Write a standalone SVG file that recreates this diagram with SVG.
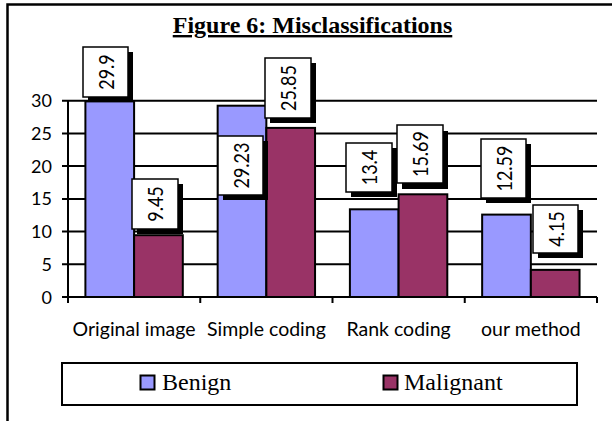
<svg xmlns="http://www.w3.org/2000/svg" width="612" height="421" viewBox="0 0 612 421">
<style>
.grid{stroke:#000;stroke-width:2;fill:none}
.ben{fill:#9999FF;stroke:#000;stroke-width:2}
.mal{fill:#993366;stroke:#000;stroke-width:2}
.ax{font-family:Lato,"Liberation Sans",sans-serif;font-size:18px;fill:#000}
.cat{font-family:Lato,"Liberation Sans",sans-serif;font-size:19.5px;fill:#000;text-anchor:middle}
.lbl{font-family:Lato,"Liberation Sans",sans-serif;font-size:18px;fill:#000;text-anchor:middle;dominant-baseline:central}
.box{fill:#fff;stroke:#000;stroke-width:1.5}
.shadow{fill:#000}
.serif{font-family:"Liberation Serif","Times New Roman",serif;fill:#000}
</style>
<rect x="0" y="0" width="612" height="421" fill="#fff"/>
<path d="M7.5,421 V4.5 H612" fill="none" stroke="#000" stroke-width="2.5"/>
<g id="title">
<text class="serif" x="312.5" y="33" font-size="24" font-weight="bold" text-anchor="middle" text-decoration="underline">Figure 6: Misclassifications</text>
</g>
<g id="axes">
<path class="grid" d="M62,297 H597 M62,264.3 H597 M62,231.6 H597 M62,198.9 H597 M62,166.1 H597 M62,133.4 H597 M62,100.7 H597"/>
<path class="grid" d="M68,100.7 V303 M200.25,297 V303 M332.5,297 V303 M464.75,297 V303 M597,297 V303"/>
<g class="ax" text-anchor="end">
<text x="52" y="303.5">0</text>
<text x="52" y="270.8">5</text>
<text x="52" y="238.1">10</text>
<text x="52" y="205.4">15</text>
<text x="52" y="172.6">20</text>
<text x="52" y="139.9">25</text>
<text x="52" y="107.2">30</text>
</g>
<text class="cat" x="134" y="336">Original image</text>
<text class="cat" x="266.4" y="336">Simple coding</text>
<text class="cat" x="398.6" y="336">Rank coding</text>
<text class="cat" x="530.9" y="336">our method</text>
</g>
<g id="bars">
<rect class="ben" x="85.4" y="101.4" width="48.7" height="195.6"/>
<rect class="mal" x="134.1" y="235.2" width="48.7" height="61.8"/>
<rect class="ben" x="217.65" y="105.7" width="48.7" height="191.3"/>
<rect class="mal" x="266.35" y="127.9" width="48.7" height="169.1"/>
<rect class="ben" x="349.9" y="209.3" width="48.7" height="87.7"/>
<rect class="mal" x="398.6" y="194.3" width="48.7" height="102.7"/>
<rect class="ben" x="482.15" y="214.6" width="48.7" height="82.4"/>
<rect class="mal" x="530.85" y="269.85" width="48.7" height="27.15"/>
</g>
<g id="labels">
<g id="lbl-29-9"><rect class="shadow" x="88" y="52" width="45" height="50"/><rect class="box" x="83" y="47" width="45" height="50"/><text class="lbl" transform="translate(105.5,72) rotate(-90) scale(1,1.15)">29.9</text></g>
<g id="lbl-9-45"><rect class="shadow" x="137" y="184" width="46" height="50"/><rect class="box" x="132" y="179" width="46" height="50"/><text class="lbl" transform="translate(155,204) rotate(-90) scale(1,1.15)">9.45</text></g>
<g id="lbl-29-23"><rect class="shadow" x="223" y="141" width="45" height="59"/><rect class="box" x="218" y="136" width="45" height="59"/><text class="lbl" transform="translate(240.5,165.5) rotate(-90) scale(1,1.15)">29.23</text></g>
<g id="lbl-25-85"><rect class="shadow" x="270" y="63" width="46" height="60"/><rect class="box" x="265" y="58" width="46" height="60"/><text class="lbl" transform="translate(288,88) rotate(-90) scale(1,1.15)">25.85</text></g>
<g id="lbl-13-4"><rect class="shadow" x="351" y="148" width="46" height="49"/><rect class="box" x="346" y="143" width="46" height="49"/><text class="lbl" transform="translate(369,167.5) rotate(-90) scale(1,1.15)">13.4</text></g>
<g id="lbl-15-69"><rect class="shadow" x="402" y="131" width="46" height="58"/><rect class="box" x="397" y="125" width="46" height="58"/><text class="lbl" transform="translate(420,154) rotate(-90) scale(1,1.15)">15.69</text></g>
<g id="lbl-12-59"><rect class="shadow" x="486" y="144" width="45" height="59"/><rect class="box" x="481" y="139" width="45" height="59"/><text class="lbl" transform="translate(503.5,168.5) rotate(-90) scale(1,1.15)">12.59</text></g>
<g id="lbl-4-15"><rect class="shadow" x="538" y="210" width="45" height="48"/><rect class="box" x="533" y="205" width="45" height="48"/><text class="lbl" transform="translate(555.5,229) rotate(-90) scale(1,1.15)">4.15</text></g>
</g>
<g id="legend">
<rect x="62" y="363" width="515" height="42" fill="#fff" stroke="#000" stroke-width="2"/>
<rect x="140.5" y="375.5" width="14" height="14" fill="#9999FF" stroke="#000" stroke-width="2"/>
<text class="serif" x="162" y="390" font-size="24">Benign</text>
<rect x="383.5" y="375.5" width="14" height="14" fill="#993366" stroke="#000" stroke-width="2"/>
<text class="serif" x="404" y="390" font-size="24">Malignant</text>
</g>
</svg>
